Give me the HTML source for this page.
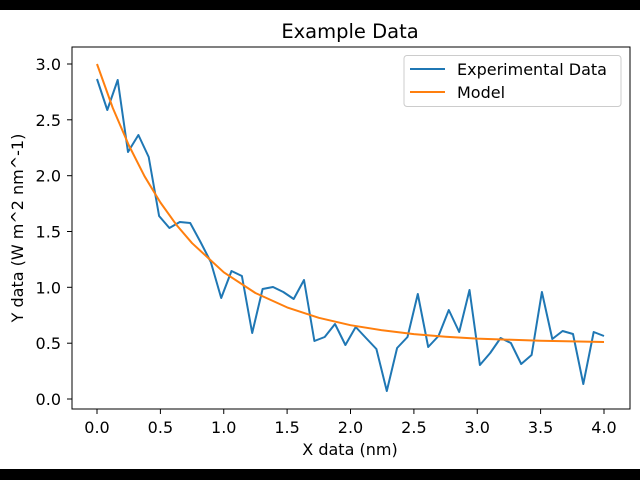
<!DOCTYPE html>
<html><head><meta charset="utf-8"><style>
html,body{margin:0;padding:0;background:#000;}
svg{display:block;font-family:"DejaVu Sans","Liberation Sans",sans-serif;}
</style></head><body>
<svg width="640" height="480" viewBox="0 0 640 480">
<rect x="0" y="0" width="640" height="480" fill="#000"/>
<rect x="0" y="10" width="640" height="459" fill="#fff"/>
<text x="350" y="38" font-size="19.5" text-anchor="middle" fill="#000">Example Data</text>
<g stroke="#000" stroke-width="1">
<line x1="97" y1="409" x2="97" y2="414"/><line x1="160.4" y1="409" x2="160.4" y2="414"/><line x1="223.75" y1="409" x2="223.75" y2="414"/><line x1="287.1" y1="409" x2="287.1" y2="414"/><line x1="350.5" y1="409" x2="350.5" y2="414"/><line x1="413.9" y1="409" x2="413.9" y2="414"/><line x1="477.25" y1="409" x2="477.25" y2="414"/><line x1="540.6" y1="409" x2="540.6" y2="414"/><line x1="604" y1="409" x2="604" y2="414"/>
<line x1="67" y1="399" x2="72" y2="399"/><line x1="67" y1="343.2" x2="72" y2="343.2"/><line x1="67" y1="287.3" x2="72" y2="287.3"/><line x1="67" y1="231.5" x2="72" y2="231.5"/><line x1="67" y1="175.7" x2="72" y2="175.7"/><line x1="67" y1="119.8" x2="72" y2="119.8"/><line x1="67" y1="64" x2="72" y2="64"/>
</g>
<g font-size="16" fill="#000" text-anchor="middle">
<text x="97" y="433">0.0</text><text x="160.4" y="433">0.5</text><text x="223.75" y="433">1.0</text><text x="287.1" y="433">1.5</text><text x="350.5" y="433">2.0</text><text x="413.9" y="433">2.5</text><text x="477.25" y="433">3.0</text><text x="540.6" y="433">3.5</text><text x="604" y="433">4.0</text>
</g>
<g font-size="16" fill="#000" text-anchor="end">
<text x="61" y="405">0.0</text><text x="61" y="349.2">0.5</text><text x="61" y="293.3">1.0</text><text x="61" y="237.5">1.5</text><text x="61" y="181.7">2.0</text><text x="61" y="125.8">2.5</text><text x="61" y="70">3.0</text>
</g>
<text x="350" y="455" font-size="16" text-anchor="middle" fill="#000">X data (nm)</text>
<text transform="translate(23,228) rotate(-90)" font-size="16" text-anchor="middle" fill="#000">Y data (W m^2 nm^-1)</text>
<polyline fill="none" stroke="#1f77b4" stroke-width="2" stroke-linejoin="round" points="97,79 107.3,110 117.7,80 128,152 138.4,135 148.7,157 159.1,216 169.4,228 179.8,222 190.2,223 200.5,242 210.8,262 221.2,298 231.5,271 241.9,276 252.2,333 262.6,289 273,287 283.3,292 293.7,299 304,280 314.4,341 324.7,337 335,324 345.4,345 355.7,327 366,338 376.4,349 386.8,391 397.1,348 407.5,337 417.8,294 428.2,347 438.5,336 448.8,310 459.2,332 469.5,290 479.9,365 490.2,353 500.6,338 510.9,343 521.2,364 531.6,355 541.9,292 552.3,339 562.6,331 573,334 583.3,384 593.7,332 604,336"/>
<polyline fill="none" stroke="#ff7f0e" stroke-width="2" stroke-linejoin="round" points="97,64 112.8,108 128.7,145 144.5,176.2 160.4,202.5 176.2,224.6 192.1,243.2 223.8,272.3 255.4,293 287.1,307.4 318.8,317.8 350.5,325.2 382.2,330.3 413.9,334.1 445.6,336.7 477.3,338.6 540.6,340.8 604,342"/>
<rect x="72" y="47" width="558" height="362" fill="none" stroke="#000" stroke-width="1"/>
<rect x="404" y="55.5" width="217" height="51" rx="3" fill="#fff" fill-opacity="0.8" stroke="#ccc" stroke-width="1"/>
<line x1="410" y1="69" x2="445" y2="69" stroke="#1f77b4" stroke-width="2"/>
<line x1="410" y1="92" x2="445" y2="92" stroke="#ff7f0e" stroke-width="2"/>
<text x="457" y="75" font-size="16" fill="#000">Experimental Data</text>
<text x="457" y="98" font-size="16" fill="#000">Model</text>
</svg>
</body></html>
